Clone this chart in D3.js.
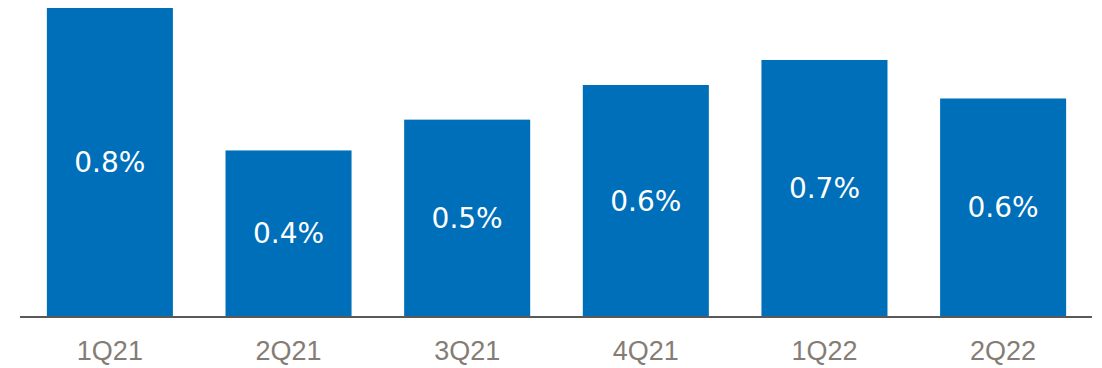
<!DOCTYPE html>
<html>
<head>
<meta charset="utf-8">
<script src="https://cdn.jsdelivr.net/npm/d3@7"></script>
<style>
  body { margin: 0; background: #fff; }
  svg { display: block; }
</style>
</head>
<body>
<svg id="chart"></svg>
<script>
// quarters and their values (percent)
const quarters = ["1Q21", "2Q21", "3Q21", "4Q21", "1Q22", "2Q22"];
const values = [0.80, 0.43, 0.51, 0.60, 0.665, 0.565];
const labels = ["0.8%", "0.4%", "0.5%", "0.6%", "0.7%", "0.6%"];

const width = 1102, height = 368;
var margin = {top: 8, right: 10, bottom: 52, left: 20};

const svg = d3.select("#chart")
    .attr("width", width)
    .attr("height", height);

const x = d3.scaleBand()
    .domain(quarters)
    .range([29, 1084])
    .paddingInner(0.2945)
    .paddingOuter(0.1);

const y = d3.scaleLinear()
    .domain([0, 0.80])
    .range([height - margin.bottom, margin.top]);

const data = quarters.map((q, i) => ({q: q, v: values[i], label: labels[i]}));

svg.selectAll("rect.bar")
    .data(data)
    .enter().append("rect")
    .attr("class", "bar")
    .attr("x", d => x(d.q))
    .attr("y", d => y(d.v))
    .attr("width", x.bandwidth())
    .attr("height", d => y(0) - y(d.v))
    .attr("fill", "#006fb9");

// value labels centred in the bars
svg.selectAll("text.val")
    .data(data)
    .enter().append("text")
    .attr("class", "val")
    .attr("x", d => x(d.q) + x.bandwidth() / 2)
    .attr("y", d => (y(d.v) + y(0)) / 2)
    .attr("dy", "0.36em")
    .attr("text-anchor", "middle")
    .attr("fill", "#fff")
    .attr("font-family", "'DejaVu Sans', sans-serif")
    .attr("font-size", "28px")
    .text(d => d.label);

// baseline
svg.append("line")
    .attr("x1", margin.left)
    .attr("x2", width - margin.right)
    .attr("y1", y(0) + 1)
    .attr("y2", y(0) + 1)
    .attr("stroke", "#595959")
    .attr("stroke-width", 2);

// category labels
svg.selectAll("text.cat")
    .data(quarters)
    .enter().append("text")
    .attr("class", "cat")
    .attr("x", d => x(d) + x.bandwidth() / 2)
    .attr("y", 360)
    .attr("text-anchor", "middle")
    .attr("fill", "#857d75")
    .attr("font-family", "'Liberation Sans', Arial, sans-serif")
    .attr("font-size", "27px")
    .text(d => d);
</script>
</body>
</html>
